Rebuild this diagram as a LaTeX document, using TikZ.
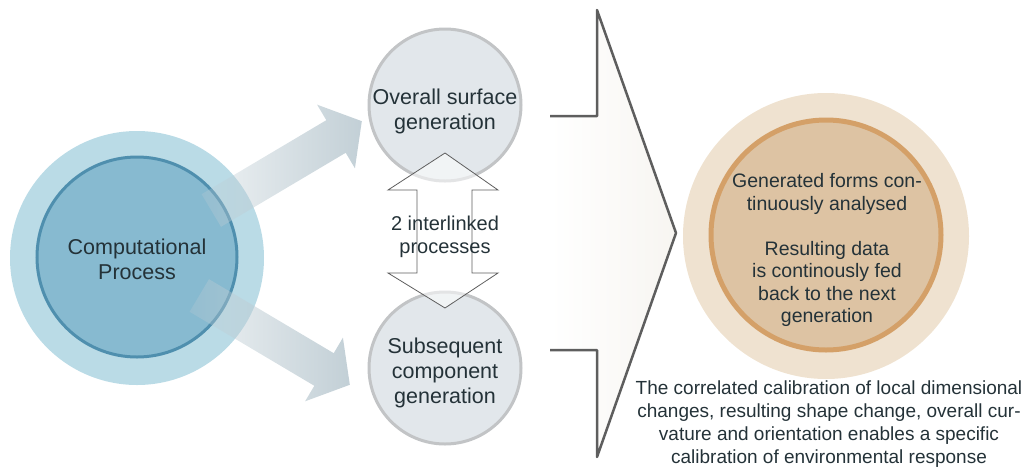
\documentclass[tikz,border=0pt]{standalone}
\usepackage{fontspec}
\setmainfont{Liberation Sans}
\usetikzlibrary{fadings}
\definecolor{procblue}{HTML}{87BAD0}
\definecolor{procring}{HTML}{BADBE6}
\definecolor{procline}{HTML}{4F8FAE}
\definecolor{gencirc}{HTML}{E2E7EB}
\definecolor{genline}{HTML}{C2C4C6}
\definecolor{flowgray}{HTML}{BFCDD4}
\definecolor{outline}{HTML}{5E5E5E}
\definecolor{bigfill}{HTML}{F7F5F1}
\definecolor{anafill}{HTML}{DDC3A3}
\definecolor{anaring}{HTML}{EFE2D0}
\definecolor{analine}{HTML}{D4A068}
\definecolor{txt}{HTML}{243238}
\tikzfading[name=flowfade, left color=transparent!75, right color=transparent!5]
\tikzset{
  lbl/.style={text=txt, align=center, font=\fontsize{21.5}{25}\selectfont},
  small/.style={text=txt, align=center, font=\fontsize{19.5}{22.5}\selectfont},
  flow/.style={fill=flowgray, path fading=flowfade},
}
\begin{document}
\begin{tikzpicture}[x=1pt,y=-1pt]
\useasboundingbox (0,0) rectangle (1026,467);
% computational process
\fill[procring] (137,258) circle (127);
\draw[line width=3pt, procline, fill=procblue] (137,257) circle (100);
\node[lbl] (comp) at (137,259) {Computational\\Process};
% the two broad arrows
\path[flow] (201.6,194.2)--(326.3,120.2)--(317.1,104.7)--(361.8,121.2)--(354.9,168.3)--(345.7,152.8)--(221,226.8)--cycle;
\path[flow] (209,279.2)--(333.7,353.2)--(342.9,337.7)--(349.8,384.8)--(305.1,401.3)--(314.3,385.8)--(189.6,311.8)--cycle;
% the two generation circles
\draw[line width=3pt, genline, fill=gencirc] (445,105) circle (76);
\draw[line width=3pt, genline, fill=gencirc] (445,368) circle (76);
\node[lbl] (surf) at (445,111) {Overall surface\\generation};
\node[lbl] (sub) at (445,373) {Subsequent\\component\\generation};
% double arrow between them
\draw[outline, line width=0.8pt, fill=white, fill opacity=0.55] (445,153)--(498,190)--(472,190)--(472,273)--(498,273)--(445,308)--(388,273)--(417,273)--(417,190)--(388,190)--cycle;
\node[small, font=\fontsize{20}{22.5}\selectfont] (link) at (445,237) {2 interlinked\\processes};
% big arrow
\fill[left color=white, right color=bigfill] (550,116)--(597,116)--(597,10)--(676,233)--(597,457)--(597,350)--(550,350)--cycle;
\draw[outline, line width=2.5pt, line join=round] (550,116)--(597,116)--(597,10)--(676,233)--(597,457)--(597,350)--(550,350);
% analysis circle
\fill[anaring] (826,236) circle (143);
\draw[analine, line width=5pt, fill=anafill] (826,235) circle (115);
\node[small] (ana) at (827,250) {Generated forms con-\\tinuously analysed\\[22.5pt]Resulting data\\is continously fed\\back to the next\\generation};
\node[small, font=\fontsize{19}{23}\selectfont] (calib) at (829,424) {The correlated calibration of local dimensional\\changes, resulting shape change, overall cur-\\vature and orientation enables a specific\\calibration of environmental response};
\end{tikzpicture}
\end{document}
